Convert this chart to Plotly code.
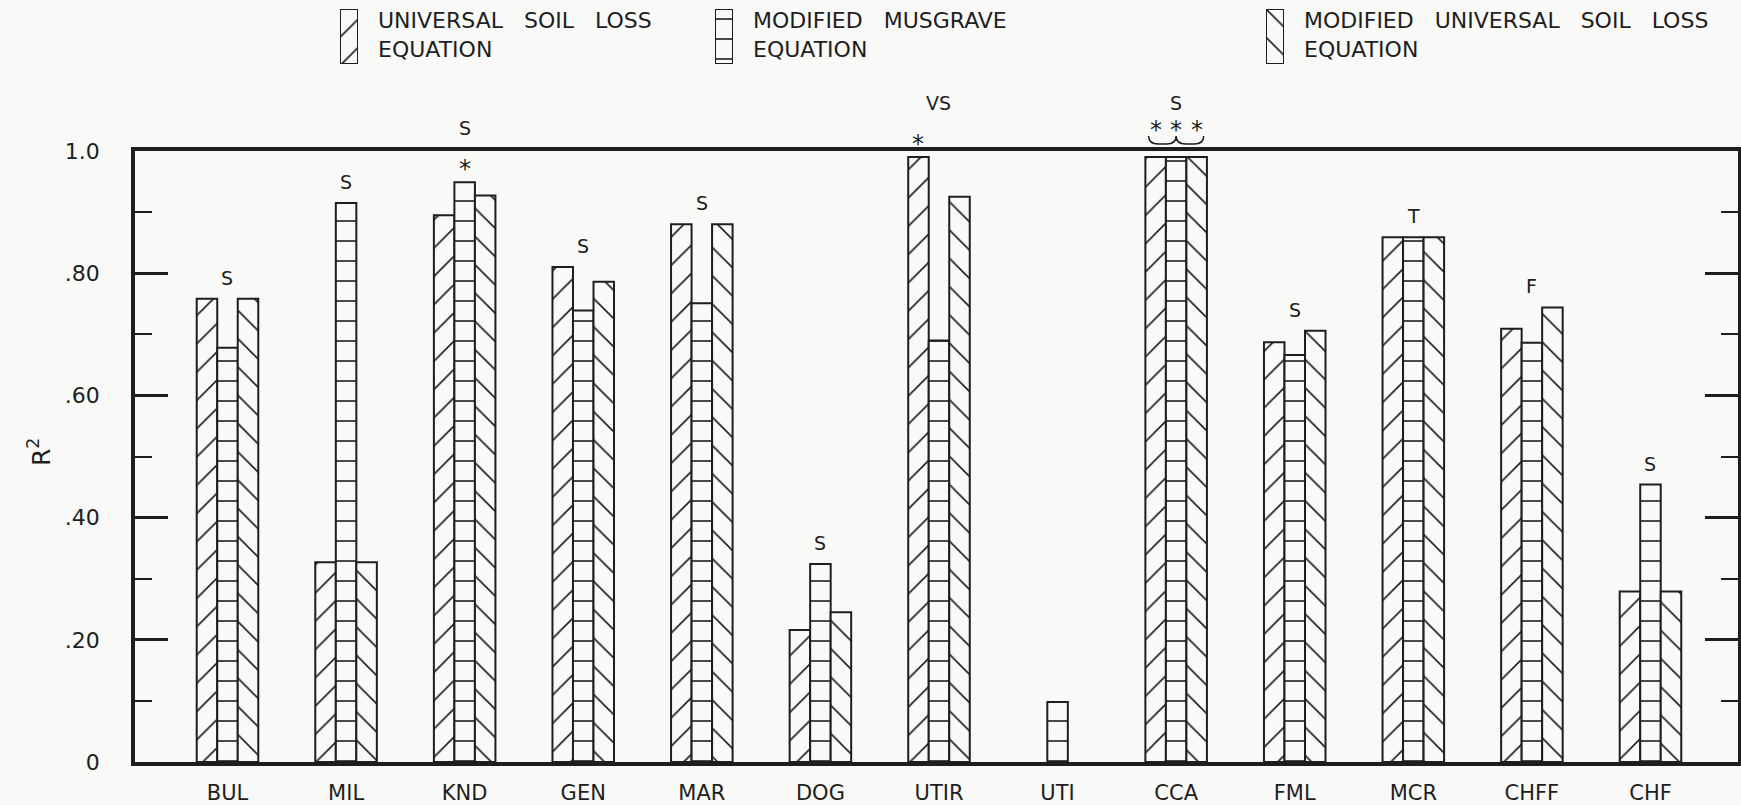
import plotly.graph_objects as go

# Watersheds (x categories)
stations = ["BUL", "MIL", "KND", "GEN", "MAR", "DOG", "UTIR", "UTI",
            "CCA", "FML", "MCR", "CHFF", "CHF"]

# Coefficient of determination for each model
usle_r2 = [0.758, 0.327, 0.895, 0.810, 0.880, 0.216, 0.990, None,
           0.990, 0.687, 0.859, 0.709, 0.279]
musgrave_r2 = [0.678, 0.915, 0.949, 0.739, 0.751, 0.324, 0.690, 0.098,
               0.990, 0.666, 0.859, 0.686, 0.454]
musle_r2 = [0.758, 0.327, 0.927, 0.786, 0.880, 0.245, 0.925, None,
            0.990, 0.706, 0.859, 0.744, 0.279]

# Group rating written above each watershed
rating = ["S", "S", "S", "S", "S", "S", "VS", "", "S", "S", "T", "F", "S"]

# Asterisk flags (best model) per series
usle_star = [0, 0, 0, 0, 0, 0, 1, 0, 1, 0, 0, 0, 0]
musgrave_star = [0, 0, 1, 0, 0, 0, 0, 0, 1, 0, 0, 0, 0]
musle_star = [0, 0, 0, 0, 0, 0, 0, 0, 1, 0, 0, 0, 0]

# Axis ticks
y_tickvals = [0, 0.2, 0.4, 0.6, 0.8, 1.0]
y_ticktext = ["0", ".20", ".40", ".60", ".80", "1.0"]

# Key entries
GAP = "\u00a0\u00a0 "
model_names = [f"UNIVERSAL{GAP}SOIL{GAP}LOSS<br>EQUATION",
               f"MODIFIED{GAP}MUSGRAVE<br>EQUATION",
               f"MODIFIED{GAP}UNIVERSAL{GAP}SOIL{GAP}LOSS<br>EQUATION"]
model_patterns = ["/", "-", "\\"]

# ---- styling / geometry (pixels) ----
W, H = 1741, 805
M_L, M_R, M_T, M_B = 135, 3, 4, 43
PLOT_TOP = 151                  # pixel row of the upper frame line
X_MIN, X_MAX = -0.78, 12.738
GROUP_W = 0.519                 # fraction of a category taken by a group
INK = "#1e1e1e"
PAPER = "#f9f9f7"
FONT = "DejaVu Sans"
KEY_LEFT = [340, 715, 1266]     # left edge of each key swatch
KEY_W, KEY_TOP, KEY_BOT = 18, 9, 64

plot_w = W - M_L - M_R
paper_h = H - M_T - M_B
dom_top = (H - M_B - PLOT_TOP) / paper_h
px_per_unit = plot_w / (X_MAX - X_MIN)
bar_px = GROUP_W / 3 * px_per_unit


def paper_x(px):
    return (px - M_L) / plot_w


def paper_y(py):
    return (H - M_B - py) / paper_h


def pattern(shape):
    return dict(shape=shape, size=20, solidity=0.08,
                fgcolor=INK, bgcolor=PAPER, fillmode="replace")


fig = go.Figure()
for name, vals, shape in zip(model_names, [usle_r2, musgrave_r2, musle_r2],
                             model_patterns):
    fig.add_trace(go.Bar(
        x=stations, y=vals, name=name.replace("<br>", " ").replace("\u00a0", ""),
        showlegend=False,
        marker=dict(color=PAPER, line=dict(color=INK, width=2),
                    pattern=pattern(shape)),
    ))

# Key: one patterned swatch per model, each on its own small axes
half = GROUP_W / 2
for k, (shape, left) in enumerate(zip(model_patterns, KEY_LEFT)):
    ax = k + 2
    fig.add_trace(go.Bar(
        x=[0], y=[1], xaxis=f"x{ax}", yaxis=f"y{ax}", showlegend=False,
        hoverinfo="skip",
        marker=dict(color=PAPER, line=dict(color=INK, width=2),
                    pattern=pattern(shape)),
    ))
    fig.update_layout({
        f"xaxis{ax}": dict(domain=[paper_x(left), paper_x(left + KEY_W)],
                           anchor=f"y{ax}", range=[-half, half],
                           visible=False, fixedrange=True),
        f"yaxis{ax}": dict(domain=[paper_y(KEY_BOT), paper_y(KEY_TOP)],
                           anchor=f"x{ax}", range=[0, 1],
                           visible=False, fixedrange=True),
    })

annotations = []
shapes = []
for name, left in zip(model_names, KEY_LEFT):
    annotations.append(dict(
        xref="paper", yref="paper", x=paper_x(left + 36), y=paper_y(6),
        xanchor="left", yanchor="top", align="left", showarrow=False,
        text=name, font=dict(family=FONT, size=22, color=INK)))

annotations.append(dict(
    xref="paper", yref="paper", x=paper_x(39), y=paper_y(452),
    text="R<sup>2</sup>", textangle=-90, showarrow=False,
    xanchor="center", yanchor="middle",
    font=dict(family=FONT, size=25, color=INK)))

series = [(usle_r2, usle_star, -1), (musgrave_r2, musgrave_star, 0),
          (musle_r2, musle_star, 1)]
for i, st in enumerate(stations):
    vals = [s[0][i] for s in series if s[0][i] is not None]
    top = max(vals)
    flags = [s[1][i] for s in series]
    braced = all(flags)
    any_star = any(flags)
    for vals_s, star_s, off in series:
        if star_s[i]:
            annotations.append(dict(
                x=st, y=vals_s[i], text="*", showarrow=False,
                xshift=off * bar_px, yshift=27 if braced else 13,
                yanchor="middle", font=dict(family=FONT, size=24, color=INK)))
    if braced:
        xc = (i - X_MIN) / (X_MAX - X_MIN)
        hw = GROUP_W / 2 / (X_MAX - X_MIN)
        x0, x1 = xc - hw + 0.002, xc + hw - 0.002
        y0 = top * dom_top + 13 / paper_h
        y1 = y0 + 8 / paper_h
        d = 0.006
        path = (f"M{x0},{y1} Q{x0},{y0} {x0 + d},{y0} L{xc - d},{y0} "
                f"Q{xc},{y0} {xc},{y1} Q{xc},{y0} {xc + d},{y0} "
                f"L{x1 - d},{y0} Q{x1},{y0} {x1},{y1}")
        shapes.append(dict(type="path", xref="paper", yref="paper", path=path,
                           line=dict(color=INK, width=1.5)))
    if rating[i]:
        annotations.append(dict(
            x=st, y=top, text=rating[i], showarrow=False,
            yshift=54 if any_star else 21, yanchor="middle",
            font=dict(family=FONT, size=19, color=INK)))

fig.update_layout(
    width=W, height=H,
    margin=dict(l=M_L, r=M_R, t=M_T, b=M_B, pad=0, autoexpand=False),
    paper_bgcolor=PAPER, plot_bgcolor=PAPER,
    barmode="group", bargap=1 - GROUP_W, bargroupgap=0,
    font=dict(family=FONT, color=INK),
    showlegend=False,
    annotations=annotations,
    shapes=shapes,
)

fig.update_layout(
    xaxis=dict(
        range=[X_MIN, X_MAX], domain=[0, 1], showgrid=False, zeroline=False,
        showline=True, linecolor=INK, linewidth=3.5, mirror=True,
        ticks="", ticklabelstandoff=9, tickangle=0,
        tickfont=dict(family=FONT, size=21, color=INK),
    ),
    yaxis=dict(
        range=[0, 1.0], domain=[0, dom_top], showgrid=False, zeroline=False,
        showline=True, linecolor=INK, linewidth=3.5, mirror="ticks",
        tickvals=y_tickvals, ticktext=y_ticktext,
        ticks="inside", ticklen=33, tickwidth=2.5, tickcolor=INK,
        minor=dict(ticks="inside", ticklen=17, tickwidth=2, tickcolor=INK,
                   dtick=0.1, showgrid=False),
        ticklabelstandoff=27,
        tickfont=dict(family=FONT, size=22, color=INK),
    ),
)

fig.write_html("out.html")
